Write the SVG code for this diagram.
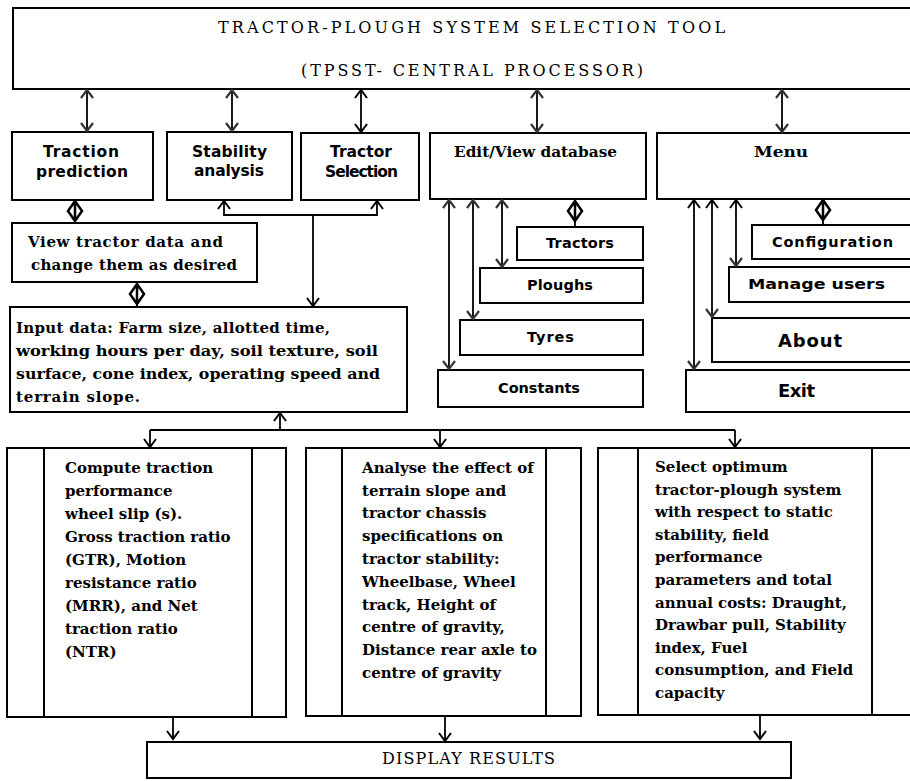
<svg xmlns="http://www.w3.org/2000/svg" xmlns:xlink="http://www.w3.org/1999/xlink" width="910" height="781" viewBox="0 0 910 781">
  <style>
    .box { fill: #fff; stroke: #000; stroke-width: 2; }
    .div { stroke: #000; stroke-width: 2; fill: none; }
    .ln { stroke: #000; stroke-width: 1.8; fill: none; }
    .title { font-family: "DejaVu Serif", "Liberation Serif", serif; font-size: 16px; fill: #000; }
    .lbl { font-family: "DejaVu Sans", "Liberation Sans", sans-serif; font-weight: bold; font-size: 15.5px; fill: #000; }
    .slbl { font-family: "DejaVu Sans", "Liberation Sans", sans-serif; font-weight: bold; font-size: 14.5px; fill: #000; }
    .big { font-family: "DejaVu Sans", "Liberation Sans", sans-serif; font-weight: bold; font-size: 18px; fill: #000; }
    .ser { font-family: "DejaVu Serif", "Liberation Serif", serif; font-weight: bold; font-size: 15px; fill: #000; }
    .body { font-family: "DejaVu Serif", "Liberation Serif", serif; font-weight: bold; font-size: 15px; fill: #000; }
    .dia { fill: #fff; stroke: #000; stroke-width: 2.5; stroke-linejoin: miter; }
  </style>
  <defs>
    <marker id="chev" markerUnits="userSpaceOnUse" viewBox="0 0 10 14" refX="9" refY="7" markerWidth="10" markerHeight="14" orient="auto-start-reverse" overflow="visible">
      <path d="M1,1 L9,7 L1,13" fill="none" stroke="#000" stroke-width="2"/>
    </marker>
    <marker id="chevSoft" markerUnits="userSpaceOnUse" viewBox="0 0 10 14" refX="9" refY="7" markerWidth="10" markerHeight="14" orient="auto-start-reverse" overflow="visible">
      <path d="M1,1 L9,7 L1,13" fill="none" stroke="#333" stroke-width="2.2"/>
    </marker>
    <!-- aggregation diamond with a stem running through it -->
    <path id="diamond" d="M0,0 L7,10 L0,20 L-7,10 Z M0,0 V20"/>
  </defs>

  <!-- central processor -->
  <g id="central">
    <rect class="box" x="13" y="8" width="905" height="81"/>
    <text class="title" x="218" y="33" textLength="507" lengthAdjust="spacing">TRACTOR-PLOUGH SYSTEM SELECTION TOOL</text>
    <text class="title" x="301" y="76" textLength="342" lengthAdjust="spacing">(TPSST- CENTRAL PROCESSOR)</text>
  </g>

  <!-- module row -->
  <g id="traction">
    <rect class="box" x="12" y="132" width="141" height="68"/>
    <text class="lbl" x="43" y="157" textLength="76" lengthAdjust="spacing">Traction</text>
    <text class="lbl" x="36" y="177" textLength="92" lengthAdjust="spacing">prediction</text>
  </g>
  <g id="stability">
    <rect class="box" x="167" y="132" width="125" height="68"/>
    <text class="lbl" x="192" y="157" textLength="75" lengthAdjust="spacing">Stability</text>
    <text class="lbl" x="194" y="176" textLength="70" lengthAdjust="spacing">analysis</text>
  </g>
  <g id="tractor-selection">
    <rect class="box" x="301" y="133" width="118" height="67"/>
    <text class="lbl" x="330" y="157" textLength="62" lengthAdjust="spacing">Tractor</text>
    <text class="lbl" x="325" y="177" textLength="73" lengthAdjust="spacing">Selection</text>
  </g>
  <g id="database">
    <rect class="box" x="430" y="133" width="216" height="66"/>
    <text class="ser" x="454" y="157" textLength="163" lengthAdjust="spacingAndGlyphs">Edit/View database</text>
  </g>
  <g id="menu">
    <rect class="box" x="657" y="133" width="260" height="66"/>
    <text class="ser" x="754" y="157" font-size="17" textLength="54" lengthAdjust="spacingAndGlyphs">Menu</text>
  </g>

  <!-- tractor data and inputs -->
  <g id="view-tractor">
    <rect class="box" x="12" y="223" width="245" height="59"/>
    <text class="body" x="28" y="247" textLength="195" lengthAdjust="spacing">View tractor data and</text>
    <text class="body" x="31" y="270" textLength="206" lengthAdjust="spacing">change them as desired</text>
  </g>
  <g id="input-data">
    <rect class="box" x="10" y="307" width="397" height="105"/>
    <text class="body" x="16" y="333" textLength="314" lengthAdjust="spacing">Input data: Farm size, allotted time,</text>
    <text class="body" x="16" y="356" textLength="362" lengthAdjust="spacingAndGlyphs">working hours per day, soil texture, soil</text>
    <text class="body" x="16" y="379" textLength="364" lengthAdjust="spacingAndGlyphs">surface, cone index, operating speed and</text>
    <text class="body" x="16" y="402" textLength="124" lengthAdjust="spacing">terrain slope.</text>
  </g>

  <!-- database tables -->
  <g id="tractors">
    <rect class="box" x="517" y="227" width="126" height="33"/>
    <text class="slbl" x="546" y="248" textLength="68" lengthAdjust="spacing">Tractors</text>
  </g>
  <g id="ploughs">
    <rect class="box" x="480" y="268" width="163" height="35"/>
    <text class="slbl" x="527" y="290" textLength="66" lengthAdjust="spacing">Ploughs</text>
  </g>
  <g id="tyres">
    <rect class="box" x="460" y="320" width="183" height="35"/>
    <text class="slbl" x="527" y="342" textLength="47" lengthAdjust="spacing">Tyres</text>
  </g>
  <g id="constants">
    <rect class="box" x="438" y="370" width="205" height="37"/>
    <text class="slbl" x="498" y="393" textLength="82" lengthAdjust="spacing">Constants</text>
  </g>

  <!-- menu entries -->
  <g id="configuration">
    <rect class="box" x="752" y="225" width="165" height="34"/>
    <text class="slbl" x="772" y="247" textLength="121" lengthAdjust="spacing">Configuration</text>
  </g>
  <g id="manage-users">
    <rect class="box" x="729" y="267" width="188" height="35"/>
    <text class="slbl" x="748" y="289" font-size="16.5" textLength="137" lengthAdjust="spacingAndGlyphs">Manage users</text>
  </g>
  <g id="about">
    <rect class="box" x="712" y="318" width="205" height="44"/>
    <text class="big" x="778" y="347" textLength="64" lengthAdjust="spacing">About</text>
  </g>
  <g id="exit">
    <rect class="box" x="686" y="370" width="231" height="42"/>
    <text class="big" x="778" y="397" textLength="37" lengthAdjust="spacing">Exit</text>
  </g>

  <!-- process boxes -->
  <g id="compute-traction">
    <rect class="box" x="7" y="448" width="279" height="269"/>
    <path class="div" d="M44,448 V717 M252,448 V717"/>
    <text class="body" font-size="15.6">
      <tspan x="65" y="473">Compute traction</tspan>
      <tspan x="65" y="496">performance</tspan>
      <tspan x="65" y="519">wheel slip (s).</tspan>
      <tspan x="65" y="542">Gross traction ratio</tspan>
      <tspan x="65" y="565">(GTR), Motion</tspan>
      <tspan x="65" y="588">resistance ratio</tspan>
      <tspan x="65" y="611">(MRR), and Net</tspan>
      <tspan x="65" y="634">traction ratio</tspan>
      <tspan x="65" y="657">(NTR)</tspan>
    </text>
  </g>
  <g id="analyse-stability">
    <rect class="box" x="306" y="448" width="275" height="268"/>
    <path class="div" d="M342,448 V716 M546,448 V716"/>
    <text class="body" font-size="14.5">
      <tspan x="362" y="473">Analyse the effect of</tspan>
      <tspan x="362" y="496">terrain slope and</tspan>
      <tspan x="362" y="518">tractor chassis</tspan>
      <tspan x="362" y="541">specifications on</tspan>
      <tspan x="362" y="564">tractor stability:</tspan>
      <tspan x="362" y="587">Wheelbase, Wheel</tspan>
      <tspan x="362" y="610">track, Height of</tspan>
      <tspan x="362" y="632">centre of gravity,</tspan>
      <tspan x="362" y="655">Distance rear axle to</tspan>
      <tspan x="362" y="678">centre of gravity</tspan>
    </text>
  </g>
  <g id="select-optimum">
    <rect class="box" x="598" y="448" width="320" height="267"/>
    <path class="div" d="M638,448 V715 M872,448 V715"/>
    <text class="body" font-size="15.4">
      <tspan x="655" y="472">Select optimum</tspan>
      <tspan x="655" y="495">tractor-plough system</tspan>
      <tspan x="655" y="517">with respect to static</tspan>
      <tspan x="655" y="540">stability, field</tspan>
      <tspan x="655" y="562">performance</tspan>
      <tspan x="655" y="585">parameters and total</tspan>
      <tspan x="655" y="608">annual costs: Draught,</tspan>
      <tspan x="655" y="630">Drawbar pull, Stability</tspan>
      <tspan x="655" y="653">index, Fuel</tspan>
      <tspan x="655" y="675">consumption, and Field</tspan>
      <tspan x="655" y="698">capacity</tspan>
    </text>
  </g>
  <g id="display-results">
    <rect class="box" x="147" y="742" width="644" height="36"/>
    <text class="title" x="382" y="764" font-size="14.5" textLength="173" lengthAdjust="spacing">DISPLAY RESULTS</text>
  </g>

  <!-- connectors -->
  <g id="connectors">
    <!-- processor to modules -->
    <path class="ln" d="M87,90 V131" marker-start="url(#chevSoft)" marker-end="url(#chevSoft)"/>
    <path class="ln" d="M232,90 V131" marker-start="url(#chevSoft)" marker-end="url(#chevSoft)"/>
    <path class="ln" d="M361,90 V132" marker-start="url(#chev)" marker-end="url(#chev)"/>
    <path class="ln" d="M537,90 V132" marker-start="url(#chevSoft)" marker-end="url(#chevSoft)"/>
    <path class="ln" d="M782,90 V132" marker-start="url(#chevSoft)" marker-end="url(#chevSoft)"/>

    <!-- stability / selection feed -->
    <path class="ln" d="M224,201 V215 H377 V201" marker-start="url(#chev)" marker-end="url(#chev)"/>
    <path class="ln" d="M313,215 V306" marker-end="url(#chev)"/>

    <!-- aggregation links -->
    <use href="#diamond" class="dia" x="75" y="201"/>
    <path class="ln" d="M75,221 V223"/>
    <use href="#diamond" class="dia" x="137" y="284"/>
    <path class="ln" d="M137,283 V285 M137,304 V307"/>
    <use href="#diamond" class="dia" x="575" y="201"/>
    <path class="ln" d="M575,221 V227"/>
    <use href="#diamond" class="dia" x="823" y="200"/>
    <path class="ln" d="M823,220 V225"/>

    <!-- database tables -->
    <path class="ln" d="M449,200 V369" marker-start="url(#chevSoft)" marker-end="url(#chevSoft)"/>
    <path class="ln" d="M473,200 V319" marker-start="url(#chevSoft)" marker-end="url(#chevSoft)"/>
    <path class="ln" d="M502,200 V267" marker-start="url(#chevSoft)" marker-end="url(#chevSoft)"/>

    <!-- menu entries -->
    <path class="ln" d="M694,200 V369" marker-start="url(#chev)" marker-end="url(#chevSoft)"/>
    <path class="ln" d="M712,200 V317" marker-start="url(#chev)" marker-end="url(#chevSoft)"/>
    <path class="ln" d="M736,200 V266" marker-start="url(#chev)" marker-end="url(#chevSoft)"/>

    <!-- inputs to processing -->
    <path class="ln" d="M280,430 V413" marker-end="url(#chev)"/>
    <path class="ln" d="M150,430 H735"/>
    <path class="ln" d="M150,430 V447" marker-end="url(#chev)"/>
    <path class="ln" d="M440,430 V447" marker-end="url(#chev)"/>
    <path class="ln" d="M735,430 V447" marker-end="url(#chev)"/>

    <!-- processing to results -->
    <path class="ln" d="M173,718 V739" marker-end="url(#chev)"/>
    <path class="ln" d="M445,717 V741" marker-end="url(#chev)"/>
    <path class="ln" d="M760,716 V739" marker-end="url(#chev)"/>
  </g>
</svg>
